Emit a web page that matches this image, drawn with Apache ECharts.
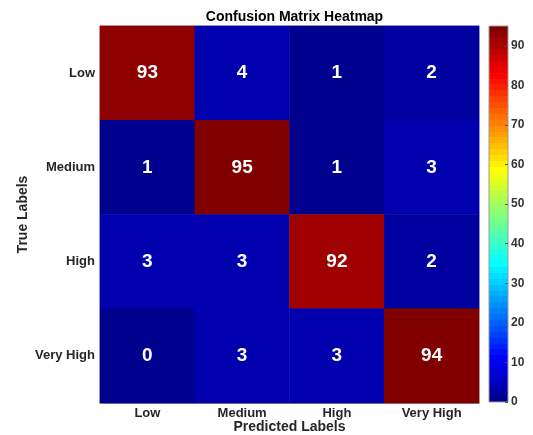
<!DOCTYPE html>
<html>
<head>
<meta charset="utf-8">
<title>Confusion Matrix Heatmap</title>
<script src="https://cdn.jsdelivr.net/npm/echarts@6/dist/echarts.min.js"></script>
<style>
  html, body { margin: 0; padding: 0; background: #ffffff; }
  #chart { width: 533px; height: 435px; }
</style>
</head>
<body>
<div id="chart"></div>
<script>
// Class names (rows = true class, columns = predicted class)
const predictedLabels = ['Low', 'Medium', 'High', 'Very High'];
const trueLabels = ['Low', 'Medium', 'High', 'Very High'];

// Counts per true class, one array per row
const rowLow      = [93, 4, 1, 2];
const rowMedium   = [1, 95, 1, 3];
const rowHigh     = [3, 3, 92, 2];
const rowVeryHigh = [0, 3, 3, 94];

// Colour limits and colourbar ticks
const colorMin = 0;
const colorMax = 95;
const colorTickStep = 10;

const rows = [rowLow, rowMedium, rowHigh, rowVeryHigh];
const cells = [];
rows.forEach((row, r) => row.forEach((v, c) => cells.push([c, r, v])));

// 64-level "jet" colour map
function jet(m) {
  const n = Math.ceil(m / 4);
  const u = [];
  for (let i = 1; i <= n; i++) u.push(i / n);
  for (let i = 1; i < n; i++) u.push(1);
  for (let i = n; i >= 1; i--) u.push(i / n);
  const off = Math.ceil(n / 2) - (m % 4 === 1 ? 1 : 0);
  const R = new Array(m).fill(0), G = new Array(m).fill(0), B = new Array(m).fill(0);
  u.forEach((val, k) => {
    const g = off + k + 1, r = g + n, b = g - n;
    if (g >= 1 && g <= m) G[g - 1] = val;
    if (r >= 1 && r <= m) R[r - 1] = val;
    if (b >= 1 && b <= m) B[b - 1] = val;
  });
  const hex = x => Math.round(x * 255).toString(16).padStart(2, '0');
  return R.map((_, i) => '#' + hex(R[i]) + hex(G[i]) + hex(B[i]));
}
const cmap = jet(64);

// One piece per colour-map level, indexed like a scaled image
const step = (colorMax - colorMin) / cmap.length;
const pieces = cmap.map((color, i) => {
  const p = { gte: colorMin + i * step, color };
  if (i < cmap.length - 1) p.lt = colorMin + (i + 1) * step; else p.lte = Infinity;
  return p;
});

// Banded gradient for the colour bar (bottom = min, top = max)
const barStops = [];
cmap.forEach((color, i) => {
  barStops.push({ offset: i / cmap.length, color });
  barStops.push({ offset: (i + 1) / cmap.length, color });
});

const plot = { left: 100, top: 26, width: 379, height: 377 };
const bar = { left: 489, top: 26, width: 19, height: 376 };

const textColor = '#262626';
const frameColor = '#8c8c8c';
const font = 'Liberation Sans, Arial, Helvetica, sans-serif';

const chart = echarts.init(document.getElementById('chart'), null, { renderer: 'canvas' });

const hiddenCat = (data, extra) => Object.assign({
  type: 'category', data, gridIndex: 0,
  axisLine: { show: false },
  axisLabel: { show: false },
  axisTick: { show: true, inside: true, length: 3, alignWithLabel: true, lineStyle: { color: frameColor } },
  splitLine: { show: false }
}, extra);

chart.setOption({
  animation: false,
  backgroundColor: '#ffffff',
  title: {
    text: 'Confusion Matrix Heatmap',
    left: plot.left + plot.width / 2,
    textAlign: 'center',
    top: 5,
    textStyle: { fontFamily: font, fontSize: 14, fontWeight: 'bold', color: '#000000' }
  },
  grid: [
    Object.assign({ show: true, borderColor: frameColor, borderWidth: 1, backgroundColor: 'transparent',
      containLabel: false, outerBoundsMode: 'none' }, plot),
    Object.assign({ show: false, containLabel: false, outerBoundsMode: 'none' }, bar)
  ],
  xAxis: [
    {
      type: 'category', data: predictedLabels, gridIndex: 0, position: 'bottom',
      name: 'Predicted Labels', nameLocation: 'middle', nameGap: 17, nameMoveOverlap: false,
      nameTextStyle: { fontFamily: font, fontSize: 14, fontWeight: 'bold', color: textColor,
        verticalAlign: 'top' },
      axisLine: { show: true, lineStyle: { color: frameColor } },
      axisTick: { show: true, inside: true, length: 3, alignWithLabel: true, lineStyle: { color: frameColor } },
      axisLabel: { fontFamily: font, fontSize: 13, fontWeight: 'bold', color: textColor, margin: 4 },
      splitLine: { show: false }
    },
    hiddenCat(predictedLabels, { position: 'top' }),
    { type: 'value', gridIndex: 1, show: false, min: 0, max: 1 }
  ],
  yAxis: [
    {
      type: 'category', data: trueLabels, gridIndex: 0, inverse: true, position: 'left',
      name: 'True Labels', nameLocation: 'middle', nameGap: 77, nameRotate: 90, nameMoveOverlap: false,
      nameTextStyle: { fontFamily: font, fontSize: 14, fontWeight: 'bold', color: textColor,
        verticalAlign: 'middle' },
      axisLine: { show: true, lineStyle: { color: frameColor } },
      axisTick: { show: true, inside: true, length: 3, alignWithLabel: true, lineStyle: { color: frameColor } },
      axisLabel: { fontFamily: font, fontSize: 13, fontWeight: 'bold', color: textColor, margin: 5 },
      splitLine: { show: false }
    },
    hiddenCat(trueLabels, { inverse: true, position: 'right' }),
    {
      type: 'value', gridIndex: 1, position: 'right', z: 20,
      min: colorMin, max: colorMax, interval: colorTickStep,
      axisLine: { show: false, onZero: false },
      axisTick: { show: true, inside: true, length: 3, lineStyle: { color: '#555555' } },
      axisLabel: { fontFamily: font, fontSize: 12, fontWeight: 'bold', color: '#333333', margin: 3,
        showMaxLabel: false },
      splitLine: { show: false }
    }
  ],
  visualMap: {
    type: 'piecewise', show: false, seriesIndex: 0, dimension: 2, pieces
  },
  graphic: [
    {
      type: 'rect', z: -10,
      shape: { x: bar.left, y: bar.top, width: bar.width, height: bar.height },
      style: {
        fill: new echarts.graphic.LinearGradient(0, 1, 0, 0, barStops),
        stroke: '#9a9a9a', lineWidth: 1
      }
    }
  ],
  series: [
    {
      type: 'heatmap',
      xAxisIndex: 0, yAxisIndex: 0,
      data: cells,
      label: {
        show: true,
        formatter: p => String(p.value[2]),
        fontFamily: font, fontSize: 19, fontWeight: 'bold', color: '#ffffff'
      },
      itemStyle: { borderWidth: 0 },
      emphasis: { disabled: true }
    }
  ]
});
</script>
</body>
</html>
